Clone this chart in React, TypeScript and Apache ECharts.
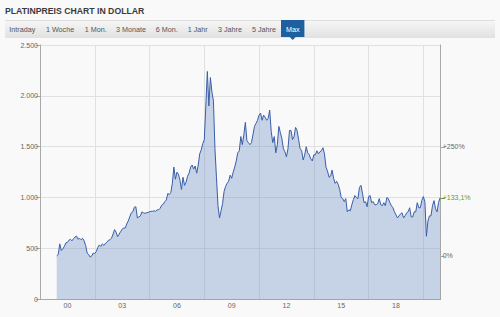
import React, { useEffect, useRef } from "react";
import * as echarts from "echarts";

const chartTitle = "PLATINPREIS CHART IN DOLLAR";
const tabs = ["Intraday", "1 Woche", "1 Mon.", "3 Monate", "6 Mon.", "1 Jahr", "3 Jahre", "5 Jahre", "Max"];
const activeTab = "Max";

// monthly platinum price (USD), Dec 1999 .. Dec 2020
const firstMonthYear = 1999;
const firstMonthIndex = 11; // December
const prices = [
  428,
  440, 545, 480, 495, 520, 555, 560, 580, 590, 575, 595, 612,
  622, 590, 600, 585, 600, 575, 530, 455, 440, 415, 425, 455,
  450, 470, 510, 535, 520, 545, 530, 550, 560, 580, 585, 600,
  640, 685, 660, 615, 640, 665, 690, 700, 700, 740, 770, 810,
  850, 860, 905, 910, 800, 810, 820, 860, 850, 845, 850, 855,
  860, 865, 865, 870, 865, 880, 880, 895, 925, 935, 960, 975,
  1040, 1030, 1050, 1140, 1300, 1180, 1250, 1230, 1170, 1080, 1200, 1120,
  1150, 1210, 1240, 1300, 1320, 1280, 1310, 1240, 1320, 1430, 1470, 1530,
  1570, 1900, 2240, 1900, 2180, 2040, 1950, 1480, 1200, 920, 800, 870,
  940, 1060, 1110, 1140, 1160, 1220, 1190, 1250, 1300, 1360, 1440, 1460,
  1600, 1520, 1620, 1740, 1560, 1540, 1520, 1540, 1620, 1700, 1730, 1760,
  1810, 1830, 1760, 1810, 1790, 1760, 1780, 1860, 1650, 1540, 1600, 1440,
  1520, 1700, 1640, 1580, 1480, 1450, 1400, 1480, 1660, 1660, 1570, 1600,
  1690, 1660, 1570, 1480, 1460, 1370, 1420, 1500, 1440, 1420, 1380, 1360,
  1420, 1420, 1460, 1430, 1450, 1460, 1490, 1430, 1300, 1260, 1200, 1210,
  1270, 1190, 1140, 1160, 1130, 1080, 1000, 990, 960, 990, 860, 880,
  870, 930, 980, 1020, 1000, 990, 1100, 1120, 1040, 950, 960, 910,
  1010, 1020, 950, 960, 930, 930, 940, 990, 930, 920, 950, 920,
  1000, 990, 950, 920, 900, 860, 830, 800, 820, 840, 850, 800,
  820, 850, 860, 900, 810, 810, 860, 860, 950, 900, 900, 970,
  1010, 960, 620, 770, 820, 820, 920, 970, 890, 860, 950, 998,
];

const yMin = 0;
const yMax = 2500;
const yInterval = 500;
const xMin = 1999;
const xMax = 2020.95;
const xLabelYears = [2000, 2003, 2006, 2009, 2012, 2015, 2018];
const xGridYears = [2002, 2005, 2008, 2011, 2014, 2017, 2020];
const basePrice = 428;
const pctTicks = [0, 250];
const lastChangePct = 133.1;

const FONT = "'Liberation Sans', Arial, sans-serif";

function fmtThousands(v: number): string {
  return String(Math.round(v)).replace(/\B(?=(\d{3})+(?!\d))/g, ".");
}

export default function App() {
  const ref = useRef<HTMLDivElement>(null);

  useEffect(() => {
    if (!ref.current) return;
    const chart = echarts.init(ref.current, undefined, { renderer: "svg" });

    const seriesData = prices.map((p, i) => [
      firstMonthYear + (firstMonthIndex + i) / 12,
      p,
    ]);
    const pctMax = (yMax / basePrice - 1) * 100;

    const tabCenters = [22.3, 60, 95.7, 131, 166.7, 197.7, 230, 264, 292.7];
    const graphics: any[] = [
      {
        type: "text",
        left: 5,
        top: 6,
        style: { text: chartTitle, fill: "#3a3a3a", font: `bold 8.7px ${FONT}` },
      },
      {
        type: "rect",
        shape: { x: 5, y: 20, width: 490, height: 18 },
        style: {
          fill: new echarts.graphic.LinearGradient(0, 0, 0, 1, [
            { offset: 0, color: "#f7f7f7" },
            { offset: 1, color: "#e1e1e1" },
          ]),
        },
      },
      {
        type: "line",
        shape: { x1: 5, y1: 20.5, x2: 495, y2: 20.5 },
        style: { stroke: "#dedede", lineWidth: 1 },
      },
    ];
    tabs.forEach((t, i) => {
      const cx = tabCenters[i];
      if (t === activeTab) {
        graphics.push({
          type: "rect",
          shape: { x: cx - 11.7, y: 20, width: 23.4, height: 17 },
          style: { fill: "#1f5f9f" },
        });
        graphics.push({
          type: "polygon",
          shape: { points: [[cx - 3, 37], [cx + 3, 37], [cx, 40]] },
          style: { fill: "#1f5f9f" },
        });
      }
      graphics.push({
        type: "text",
        x: cx,
        y: 29,
        style: {
          text: t,
          fill: t === activeTab ? "#ffffff" : "#555555",
          font: `7.2px ${FONT}`,
          align: "center",
          verticalAlign: "middle",
        },
      });
    });

    const axisLabelBase = { fontSize: 7, color: "#666", fontFamily: FONT };

    chart.setOption({
      animation: false,
      backgroundColor: "#f9f9f9",
      grid: { left: 40, right: 59.3, top: 45, bottom: 17.7, containLabel: false },
      graphic: graphics,
      xAxis: {
        type: "value",
        min: xMin,
        max: xMax,
        axisLine: { show: true, lineStyle: { color: "#a8a8a8", width: 1 } },
        axisTick: { show: false, customValues: xGridYears },
        axisLabel: {
          ...axisLabelBase,
          margin: 3,
          customValues: xLabelYears.map((y) => y + 0.5),
          formatter: (v: number) => String(Math.floor(v) % 100).padStart(2, "0"),
        },
        splitLine: { show: true, lineStyle: { color: "#e0e0e0", width: 1 } },
      },
      yAxis: [
        {
          type: "value",
          min: yMin,
          max: yMax,
          interval: yInterval,
          position: "left",
          axisLine: { show: true, lineStyle: { color: "#a8a8a8", width: 1 } },
          axisTick: { show: true, length: 4, lineStyle: { color: "#a8a8a8" } },
          axisLabel: { ...axisLabelBase, margin: 2, formatter: (v: number) => fmtThousands(v) },
          splitLine: { show: true, lineStyle: { color: "#e0e0e0", width: 1 } },
        },
        {
          type: "value",
          min: -100,
          max: pctMax,
          position: "right",
          axisLine: { show: true, lineStyle: { color: "#a8a8a8", width: 1 } },
          axisTick: { show: true, length: 4, customValues: pctTicks, lineStyle: { color: "#a8a8a8" } },
          axisLabel: {
            ...axisLabelBase,
            margin: 2,
            customValues: pctTicks,
            formatter: (v: number) => (v > 0 ? "+" : "") + String(v).replace(".", ",") + "%",
          },
          splitLine: { show: false },
        },
        {
          type: "value",
          min: -100,
          max: pctMax,
          position: "right",
          axisLine: { show: false },
          axisTick: { show: true, length: 4, customValues: [lastChangePct], lineStyle: { color: "#5aa02c" } },
          axisLabel: {
            ...axisLabelBase,
            color: "#5aa02c",
            margin: 2,
            customValues: [lastChangePct],
            formatter: (v: number) => "+" + v.toFixed(1).replace(".", ",") + "%",
          },
          splitLine: { show: false },
        },
      ],
      series: [
        {
          type: "line",
          data: seriesData,
          yAxisIndex: 0,
          showSymbol: false,
          symbol: "none",
          lineStyle: { color: "#3a5ea8", width: 1 },
          areaStyle: { color: "rgba(110,142,198,0.52)" },
          z: 3,
        },
      ],
    });

    return () => chart.dispose();
  }, []);

  return (
    <div
      ref={ref}
      style={{ position: "fixed", left: 0, top: 0, width: 500, height: 317 }}
    />
  );
}
